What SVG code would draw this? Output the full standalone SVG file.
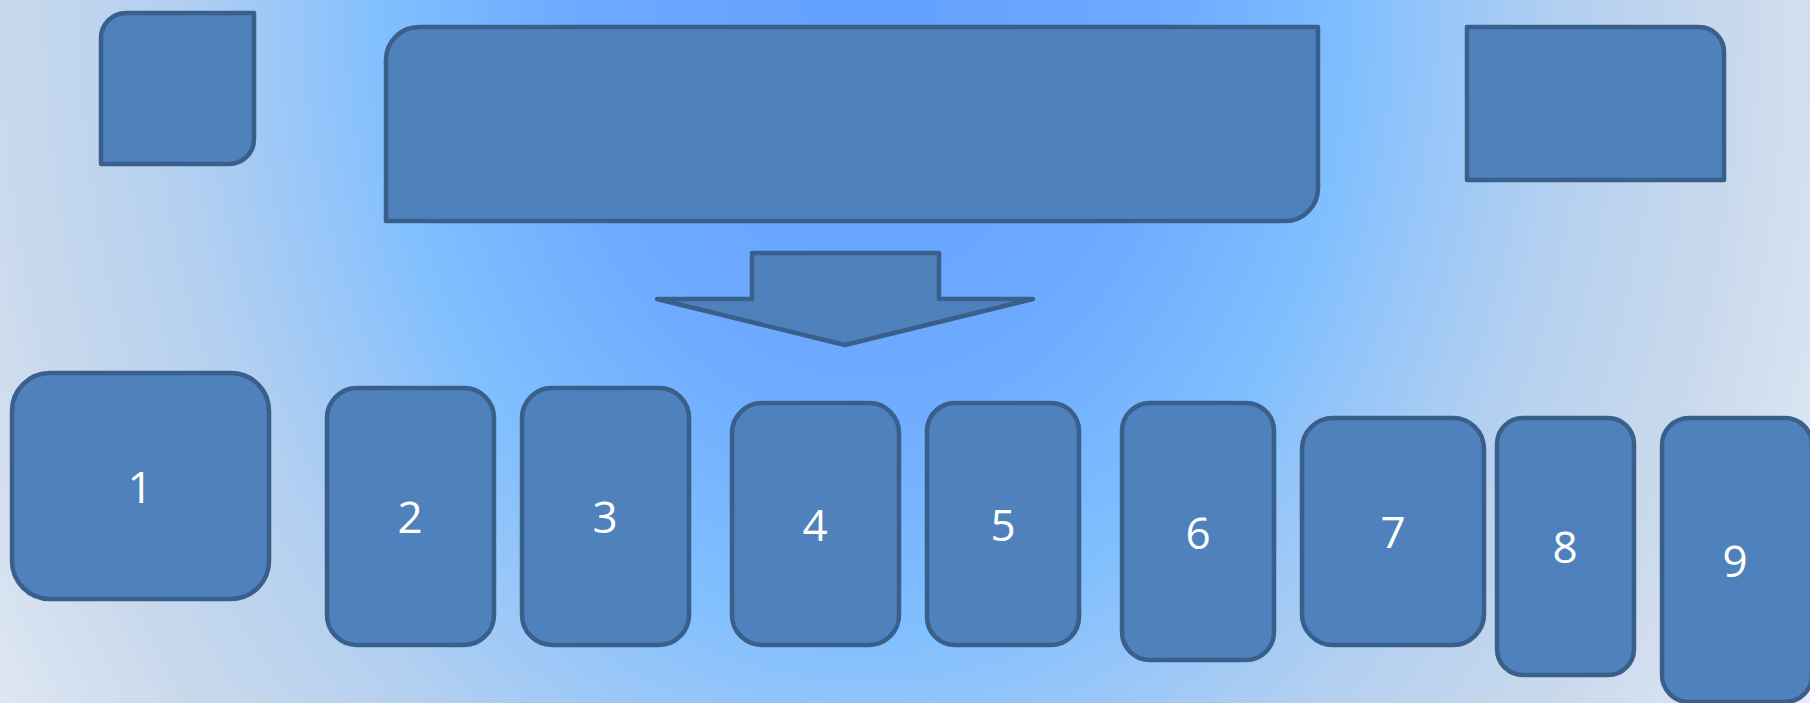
<svg xmlns="http://www.w3.org/2000/svg" width="1810" height="703" viewBox="0 0 1810 703">
  <defs>
    <radialGradient id="bg" gradientUnits="userSpaceOnUse" cx="0" cy="0" r="1150" gradientTransform="translate(870 0) scale(1 1.3)">
      <stop offset="0" stop-color="#62a0ff"/>
      <stop offset="0.26" stop-color="#6eaaff"/>
      <stop offset="0.42" stop-color="#80bfff"/>
      <stop offset="0.5" stop-color="#98c6f8"/>
      <stop offset="0.61" stop-color="#b4d0f0"/>
      <stop offset="0.757" stop-color="#c9d9ec"/>
      <stop offset="0.96" stop-color="#e9eef7"/>
      <stop offset="1" stop-color="#ecf0f8"/>
    </radialGradient>
  </defs>
  <style>
    .shape { fill: #4f81bd; stroke: #3a5f8b; stroke-width: 4.5; stroke-linejoin: round; }
    .lbl { fill: #ffffff; font-family: "Open Sans", "Liberation Sans", sans-serif; font-size: 44px; text-anchor: middle; }
  </style>
  <rect x="0" y="0" width="1810" height="703" fill="url(#bg)"/>

  <g id="top-left">
    <path class="shape" d="M101,38 A25,25 0 0 1 126,13 H254 V139 A25,25 0 0 1 229,164 H101 Z"/>
  </g>
  <g id="top-center">
    <path class="shape" d="M386,60 A33,33 0 0 1 419,27 H1318 V188 A33,33 0 0 1 1285,221 H386 Z"/>
  </g>
  <g id="top-right">
    <path class="shape" d="M1467,27 H1699 A25,25 0 0 1 1724,52 V180 H1467 Z"/>
  </g>

  <g id="connectors">
    <path id="down-arrow" class="shape" d="M752,253 H939 V299 H1033 L845,345 L657,299 H752 Z"/>
  </g>

  <g id="n1">
    <rect class="shape" x="12" y="373" width="257" height="226" rx="38"/>
    <text class="lbl" x="140" y="503">1</text>
  </g>
  <g id="n2">
    <rect class="shape" x="327" y="388" width="167" height="257" rx="30"/>
    <text class="lbl" x="410" y="533">2</text>
  </g>
  <g id="n3">
    <rect class="shape" x="522" y="388" width="167" height="257" rx="30"/>
    <text class="lbl" x="605" y="533">3</text>
  </g>
  <g id="n4">
    <rect class="shape" x="732" y="403" width="167" height="242" rx="30"/>
    <text class="lbl" x="815" y="541">4</text>
  </g>
  <g id="n5">
    <rect class="shape" x="927" y="403" width="152" height="242" rx="28"/>
    <text class="lbl" x="1003" y="541">5</text>
  </g>
  <g id="n6">
    <rect class="shape" x="1122" y="403" width="152" height="257" rx="28"/>
    <text class="lbl" x="1198" y="549">6</text>
  </g>
  <g id="n7">
    <rect class="shape" x="1302" y="418" width="182" height="227" rx="31"/>
    <text class="lbl" x="1393" y="548">7</text>
  </g>
  <g id="n8">
    <rect class="shape" x="1497" y="418" width="137" height="257" rx="26"/>
    <text class="lbl" x="1565" y="563">8</text>
  </g>
  <g id="n9">
    <rect class="shape" x="1662" y="418" width="150" height="284" rx="27"/>
    <text class="lbl" x="1735" y="577">9</text>
  </g>
</svg>
